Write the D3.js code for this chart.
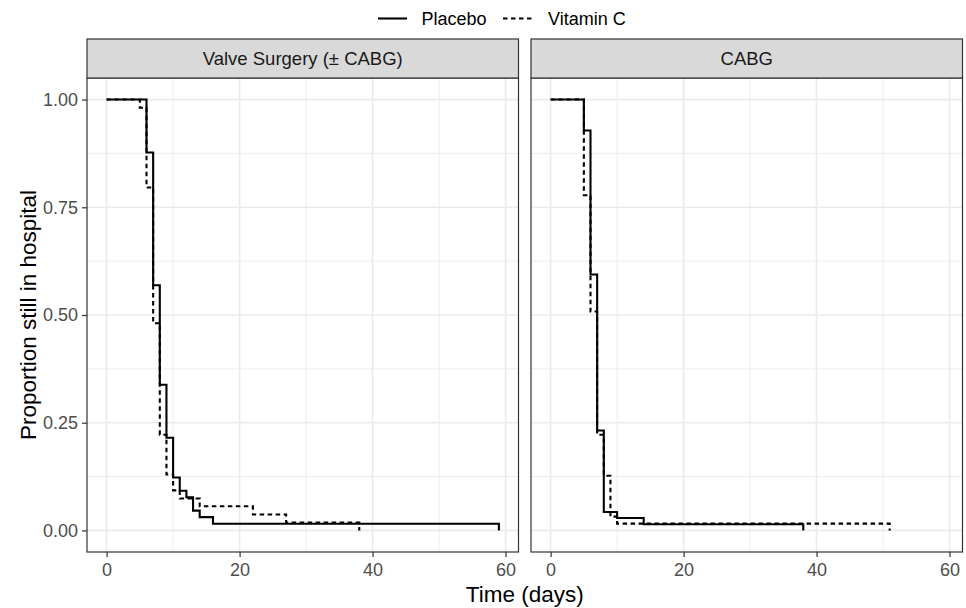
<!DOCTYPE html>
<html>
<head>
<meta charset="utf-8">
<script src="https://cdn.jsdelivr.net/npm/d3@7/dist/d3.min.js"></script>
<style>
  html, body { margin: 0; padding: 0; background: #fff; }
  svg { display: block; }
  text { font-family: "Liberation Sans", Arial, Helvetica, sans-serif; }
</style>
</head>
<body>
<svg id="chart" width="966" height="608"></svg>
<script>
// ---- data ----
const panels = ["Valve Surgery (\u00B1 CABG)", "CABG"];
const groups = ["Placebo", "Vitamin C"];
const xTicks = [0, 20, 40, 60];
const yTicks = [0, 0.25, 0.5, 0.75, 1];

const valvePlaceboTime = [0, 6, 7, 8, 9, 10, 11, 12, 13, 14, 16, 59];
const valvePlaceboSurv = [1, 0.877, 0.569, 0.338, 0.215, 0.123, 0.092, 0.077, 0.046, 0.031, 0.0154, 0];
const valveVitCTime = [0, 5, 6, 7, 8, 9, 10, 11, 14, 22, 27, 38];
const valveVitCSurv = [1, 0.981, 0.796, 0.481, 0.222, 0.130, 0.093, 0.074, 0.056, 0.037, 0.0185, 0];
const cabgPlaceboTime = [0, 5, 6, 7, 8, 10, 14, 38];
const cabgPlaceboSurv = [1, 0.928, 0.594, 0.232, 0.043, 0.029, 0.0145, 0];
const cabgVitCTime = [0, 5, 6, 7, 8, 9, 10, 51];
const cabgVitCSurv = [1, 0.778, 0.508, 0.222, 0.127, 0.032, 0.0159, 0];

const series = [
  [ {group: groups[0], t: valvePlaceboTime, s: valvePlaceboSurv},
    {group: groups[1], t: valveVitCTime, s: valveVitCSurv} ],
  [ {group: groups[0], t: cabgPlaceboTime, s: cabgPlaceboSurv},
    {group: groups[1], t: cabgVitCTime, s: cabgVitCSurv} ]
];

// ---- layout ----
const svg = d3.select("#chart");
const panelTop = 78, panelBottom = 552;
const panelX = [[87, 518.5], [531, 962.5]];
const stripTop = 39;
const dash = {"Placebo": null, "Vitamin C": "4.5,3.5"};
const smallFont = 18;

const xMax = 59;
const xPad = xMax * 0.05;
const y = d3.scaleLinear().domain([-0.05, 1.05]).range([panelBottom, panelTop]);

const grey20 = "#333333";

panels.forEach((name, i) => {
  const [x0, x1] = panelX[i];
  const x = d3.scaleLinear().domain([-xPad, xMax + xPad]).range([x0, x1]);
  const g = svg.append("g");

  g.append("rect").attr("x", x0).attr("y", panelTop).attr("width", x1 - x0)
    .attr("height", panelBottom - panelTop).attr("fill", "#fff");

  // minor grid
  const xMinor = [10, 30, 50];
  const yMinor = [0.125, 0.375, 0.625, 0.875];
  g.selectAll(".xminor").data(xMinor).enter().append("line")
    .attr("x1", d => x(d)).attr("x2", d => x(d))
    .attr("y1", panelTop).attr("y2", panelBottom)
    .attr("stroke", "#EBEBEB").attr("stroke-width", 0.9);
  g.selectAll(".yminor").data(yMinor).enter().append("line")
    .attr("x1", x0).attr("x2", x1)
    .attr("y1", d => y(d)).attr("y2", d => y(d))
    .attr("stroke", "#EBEBEB").attr("stroke-width", 0.9);
  // major grid
  g.selectAll(".xmajor").data(xTicks).enter().append("line")
    .attr("x1", d => x(d)).attr("x2", d => x(d))
    .attr("y1", panelTop).attr("y2", panelBottom)
    .attr("stroke", "#EBEBEB").attr("stroke-width", 1.7);
  g.selectAll(".ymajor").data(yTicks).enter().append("line")
    .attr("x1", x0).attr("x2", x1)
    .attr("y1", d => y(d)).attr("y2", d => y(d))
    .attr("stroke", "#EBEBEB").attr("stroke-width", 1.7);

  // curves
  const line = d3.line()
    .x(d => x(d[0])).y(d => y(d[1]))
    .curve(d3.curveStepAfter);
  series[i].forEach(sr => {
    const pts = sr.t.map((t, k) => [t, sr.s[k]]);
    g.append("path").attr("d", line(pts))
      .attr("fill", "none").attr("stroke", "#000")
      .attr("stroke-width", 2.1)
      .attr("stroke-dasharray", dash[sr.group]);
  });

  // panel border
  g.append("rect").attr("x", x0).attr("y", panelTop).attr("width", x1 - x0)
    .attr("height", panelBottom - panelTop).attr("fill", "none")
    .attr("stroke", grey20).attr("stroke-width", 1.2);

  // strip
  g.append("rect").attr("x", x0).attr("y", stripTop).attr("width", x1 - x0)
    .attr("height", panelTop - stripTop).attr("fill", "#D9D9D9")
    .attr("stroke", grey20).attr("stroke-width", 1.2);
  g.append("text").attr("x", (x0 + x1) / 2).attr("y", (stripTop + panelTop) / 2 + 6.5)
    .attr("text-anchor", "middle").attr("font-size", 18.5).attr("fill", "#1A1A1A")
    .text(name);

  // x axis
  const xAxis = d3.axisBottom(x).tickValues(xTicks).tickSize(5).tickPadding(6)
    .tickFormat(d3.format("d"));
  const ax = g.append("g").attr("transform", `translate(0,${panelBottom})`).call(xAxis);
  ax.select(".domain").remove();
  ax.selectAll(".tick line").attr("stroke", grey20).attr("stroke-width", 1.2);
  ax.selectAll(".tick text").attr("font-size", smallFont).attr("fill", "#4D4D4D")
    .attr("font-family", "'Liberation Sans', Arial, sans-serif");

  if (i === 0) {
    const yAxis = d3.axisLeft(y).tickValues(yTicks).tickSize(5).tickPadding(4)
      .tickFormat(d3.format(".2f"));
    const ay = g.append("g").attr("transform", `translate(${x0},0)`).call(yAxis);
    ay.select(".domain").remove();
    ay.selectAll(".tick line").attr("stroke", grey20).attr("stroke-width", 1.2);
    ay.selectAll(".tick text").attr("font-size", smallFont).attr("fill", "#4D4D4D")
      .attr("font-family", "'Liberation Sans', Arial, sans-serif");
  }
});

// axis titles
svg.append("text").attr("x", (panelX[0][0] + panelX[1][1]) / 2).attr("y", 601.5)
  .attr("text-anchor", "middle").attr("font-size", 22.5).attr("fill", "#000")
  .text("Time (days)");
svg.append("text")
  .attr("transform", `translate(36,${(panelTop + panelBottom) / 2}) rotate(-90)`)
  .attr("text-anchor", "middle").attr("font-size", 22.5).attr("fill", "#000")
  .text("Proportion still in hospital");

// legend
const legendItems = [
  {group: groups[0], lx: 378, tx: 421.5},
  {group: groups[1], lx: 503, tx: 548}
];
const lg = svg.append("g");
legendItems.forEach(it => {
  lg.append("line").attr("x1", it.lx).attr("x2", it.lx + 29)
    .attr("y1", 18.5).attr("y2", 18.5)
    .attr("stroke", "#000").attr("stroke-width", 2.1)
    .attr("stroke-dasharray", dash[it.group]);
  lg.append("text").attr("x", it.tx).attr("y", 25)
    .attr("font-size", smallFont).attr("fill", "#000").text(it.group);
});
</script>
</body>
</html>
